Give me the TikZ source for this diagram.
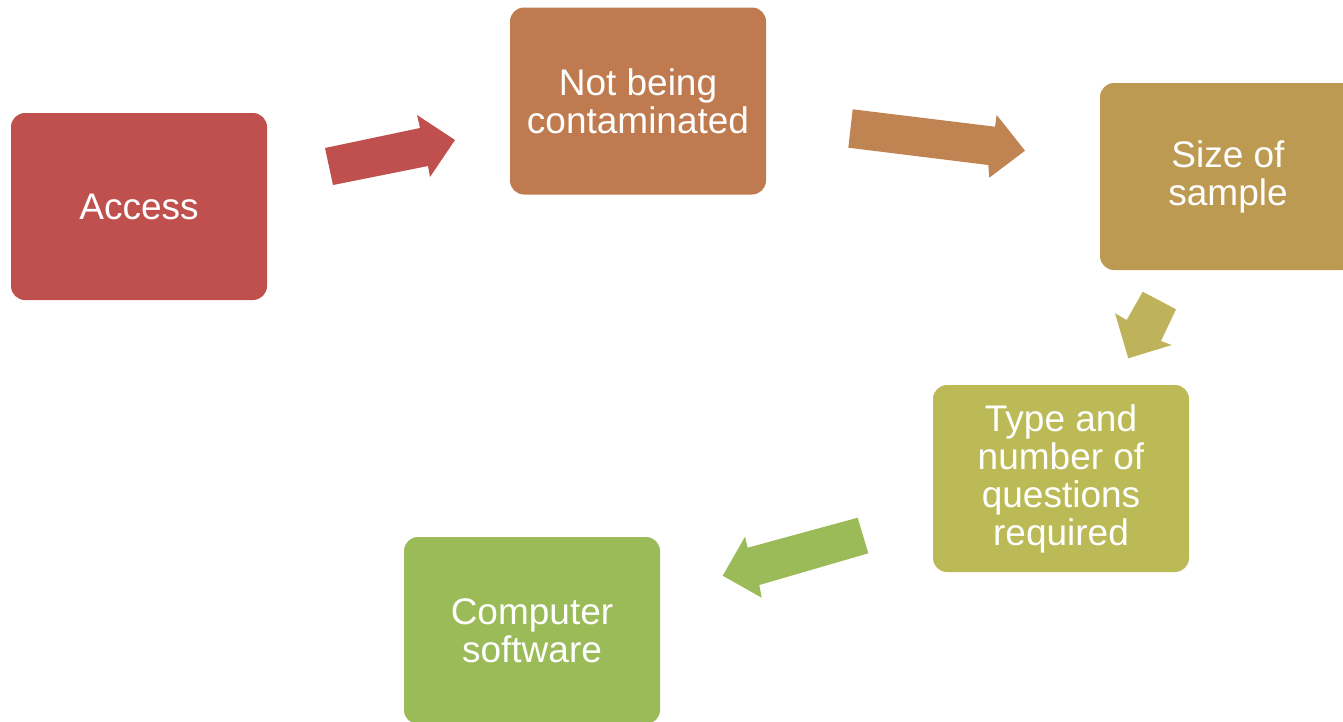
\documentclass[tikz,border=0pt]{standalone}
\usepackage{fontspec}
\setmainfont{Liberation Sans}
\definecolor{cA}{HTML}{C0504D}
\definecolor{cB}{HTML}{C07A4F}
\definecolor{cC}{HTML}{BD9A52}
\definecolor{cD}{HTML}{BBBA56}
\definecolor{cE}{HTML}{9BBB59}
\definecolor{aB}{HTML}{C08452}
\definecolor{aC}{HTML}{BEB35A}
\tikzset{
  box/.style={rectangle, rounded corners=14pt, minimum width=256pt, minimum height=187pt,
    inner sep=0pt, text=white, align=center, font=\fontsize{37}{38}\selectfont},
}
\begin{document}
\begin{tikzpicture}[x=1pt,y=-1pt]
\useasboundingbox (0,0) rectangle (1343,721);
\clip (0,0) rectangle (1343,721);
\node[box, fill=cA] (access) at (139,206.5) {Access};
\node[box, fill=cB] (contam) at (638,101) {Not being\\contaminated};
\node[box, fill=cC] (size) at (1228,176.5) {Size of\\sample};
\node[box, fill=cD] (type) at (1061,478.5) {Type and\\number of\\questions\\required};
\node[box, fill=cE] (soft) at (532,630.5) {Computer\\software};
% block arrows
\fill[cA] (325,148) -- (420,128) -- (417,115) -- (455,140) -- (430,177) -- (428,166) -- (333,185) -- cycle;
\fill[aB] (852.7,109.3) -- (995,126.7) -- (996.7,115) -- (1025,150.7) -- (989.3,177.7) -- (988.3,165) -- (848.3,147.7) -- cycle;
\fill[aC] (1142.7,291.7) -- (1176,309.3) -- (1161,341) -- (1171.7,345) -- (1128.3,358.3) -- (1115,313.3) -- (1126.7,320) -- cycle;
\fill[cE] (857.7,517.7) -- (747.7,547.7) -- (745,536.7) -- (722.7,575.7) -- (761.7,597.7) -- (759.3,585) -- (868.3,553.3) -- cycle;
\end{tikzpicture}
\end{document}
